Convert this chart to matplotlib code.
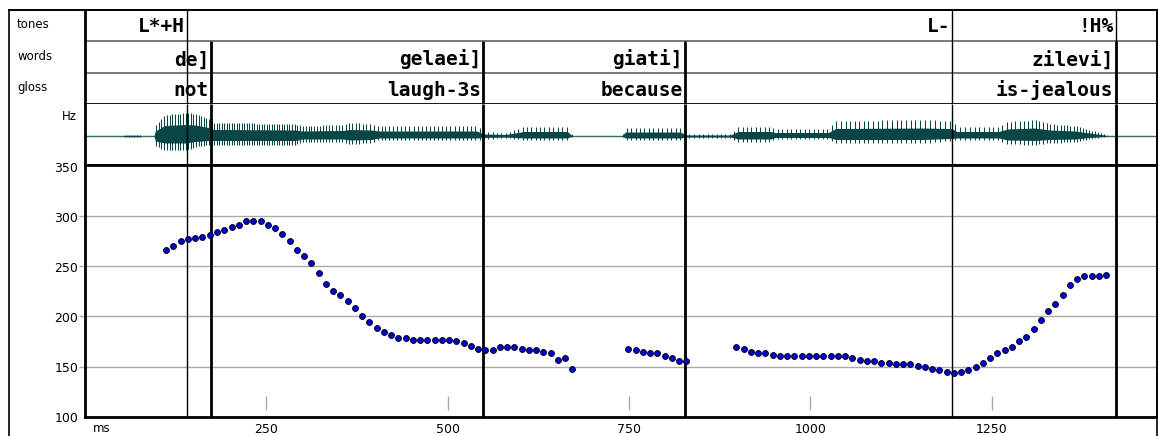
import numpy as np
import matplotlib
matplotlib.use("Agg")
import matplotlib.pyplot as plt
from matplotlib.lines import Line2D

# ---------------- data ----------------
tier_names = ["tones", "words", "gloss"]

tone_labels = ["L*+H", "L-", "!H%"]
tone_times = [141, 1196, 1421]          # right edges of tone intervals (ms)

word_labels = ["de]", "gelaei]", "giati]", "zilevi]"]
gloss_labels = ["not", "laugh-3s", "because", "is-jealous"]
word_times = [174, 549, 827, 1421]      # right edges of word intervals (ms)

total_ms = 1478

# F0 track (Hz), sampled every 10 ms, in three voiced stretches
f0_seg_starts = [112, 749, 898]
f0_seg1 = [266, 270, 275, 277, 278, 279, 281, 284, 286, 289, 291, 295, 295, 295,
           291, 288, 282, 275, 266, 260, 253, 243, 232, 225, 221, 215, 208, 200,
           194, 189, 185, 182, 179, 179, 177, 177, 177, 177, 177, 177, 176, 174,
           171, 168, 167, 167, 170, 170, 170, 168, 167, 167, 165, 164, 157, 159, 148]
f0_seg2 = [168, 167, 165, 164, 164, 161, 159, 156, 156]
f0_seg3 = [170, 168, 165, 164, 164, 162, 161, 161, 161, 161, 161, 161, 161, 161,
           161, 161, 159, 157, 156, 156, 154, 154, 153, 153, 153, 151, 150, 148,
           147, 145, 144, 145, 147, 150, 154, 159, 164, 167, 170, 176, 180, 188,
           196, 205, 212, 221, 231, 237, 240, 240, 240, 241]
f0_step_ms = 10

hz_ticks = [100, 150, 200, 250, 300, 350]
ms_ticks = [250, 500, 750, 1000, 1250]

# Waveform amplitude envelope (upper / lower excursion)
wave_env_t = [0, 52, 54, 76, 78, 95, 97, 110, 140, 152, 170, 178, 290, 300, 355,
              365, 395, 405, 540, 550, 580, 605, 665, 672, 740, 745, 820, 830,
              890, 900, 945, 952, 1025, 1035, 1155, 1195, 1202, 1260, 1272, 1310,
              1330, 1365, 1385, 1405, 1412, 1478]
wave_env_up = [0, 0, 1.3, 1.3, 0, 0, 10, 21, 23, 22, 17, 13, 12, 10, 11,
               13, 12, 10, 10, 4, 3, 9, 9, 0, 0, 8, 8, 2,
               2, 9, 9, 7, 7, 15, 16, 15, 9, 9, 14, 16,
               12, 10, 6, 2, 0, 0]
wave_env_down = [0, 0, 1.3, 1.3, 0, 0, 10, 14, 14, 11, 9, 9, 9, 6, 6,
                 8, 7, 4, 4, 3, 2, 4, 4, 0, 0, 4, 4, 2,
                 2, 6, 6, 3, 3, 7, 7, 5, 4, 4, 8, 9,
                 7, 6, 3, 1, 0, 0]

# ---------------- style ----------------
W, H, DPI = 1158, 436, 100
thick = 2.0
thin = 1.0
wave_color = "#0b4646"
base_color = "#2f6f6d"
grid_color = "#a9a9a9"
dot_face = "#0000d0"
mono = {"family": "DejaVu Sans Mono", "weight": "bold", "size": 14}
small = {"family": "DejaVu Sans", "size": 8.5}


def box(x0, y0, x1, y1):
    return [x0 / W, 1 - y1 / H, (x1 - x0) / W, (y1 - y0) / H]


fig = plt.figure(figsize=(W / DPI, H / DPI), dpi=DPI, facecolor="white")

# ---------------- annotation tiers ----------------
ax_t = fig.add_axes(box(85, 10, 1157, 104))
ax_t.set_xlim(0, total_ms)
ax_t.set_ylim(3, 0)
ax_t.set_xticks([])
ax_t.set_yticks([])
for side in ["left", "bottom"]:
    ax_t.spines[side].set_linewidth(thick)
ax_t.spines["top"].set_linewidth(1.4)
ax_t.spines["right"].set_linewidth(1.2)
ax_t.hlines([1, 2], 0, total_ms, color="#555555", lw=1.1)

# tone boundaries run through every tier (thin)
ax_t.vlines(tone_times, 0, 3, color="black", lw=thin)
# word boundaries: words and gloss rows (thick)
ax_t.vlines(word_times, 1, 3, color="black", lw=thick)

row_baseline = [0.70, 1.77, 2.76]


def tier_text(t, row, s):
    ax_t.annotate(s, xy=(t, row_baseline[row]), xytext=(-1.5, 0),
                  textcoords="offset points", ha="right", va="baseline",
                  **mono)


for t, s in zip(tone_times, tone_labels):
    tier_text(t, 0, s)
for t, s in zip(word_times, word_labels):
    tier_text(t, 1, s)
for t, s in zip(word_times, gloss_labels):
    tier_text(t, 2, s)

# tier names in the left column
name_y = [24, 56, 88]
for name, y in zip(tier_names, name_y):
    fig.text(17 / W, 1 - y / H, name, ha="left", va="center", **small)

# ---------------- waveform ----------------
f0_t = np.concatenate([s + f0_step_ms * np.arange(len(v))
                       for s, v in zip(f0_seg_starts, [f0_seg1, f0_seg2, f0_seg3])])
f0_v = np.concatenate([f0_seg1, f0_seg2, f0_seg3]).astype(float)

ax_w = fig.add_axes(box(85, 104, 1157, 165))
ax_w.set_xlim(0, total_ms)
ax_w.set_ylim(-29, 32)
ax_w.set_xticks([])
ax_w.set_yticks([])
ax_w.spines["top"].set_visible(False)
ax_w.spines["left"].set_linewidth(thick)
ax_w.spines["bottom"].set_linewidth(thick)
ax_w.spines["right"].set_linewidth(1.2)

td = np.linspace(0, total_ms, 6000)
env_up = np.interp(td, wave_env_t, wave_env_up)
env_dn = np.interp(td, wave_env_t, wave_env_down)
ax_w.axhline(0, color=base_color, lw=1.0, zorder=1)
ax_w.fill_between(td, -0.5 * env_dn, 0.5 * env_up, color=wave_color, lw=0, zorder=2)

# one stroke per glottal pulse, spaced by the local pitch period
pulses = []
t = 0.0
while t < total_ms:
    if np.interp(t, wave_env_t, wave_env_up) > 0.5:
        pulses.append(t)
    t += 1000.0 / np.interp(t, f0_t, f0_v)
pulses = np.array(pulses)
ax_w.vlines(pulses, -np.interp(pulses, wave_env_t, wave_env_down),
            np.interp(pulses, wave_env_t, wave_env_up),
            color=wave_color, lw=0.75, zorder=2)

ax_w.vlines(tone_times, -29, 32, color="black", lw=thin, zorder=3)
ax_w.vlines(word_times, -29, 32, color="black", lw=thick, zorder=3)
fig.text(77 / W, 1 - 117 / H, "Hz", ha="right", va="center", **small)

# ---------------- pitch track ----------------
ax_p = fig.add_axes(box(85, 165, 1157, 416.5))
ax_p.set_xlim(0, total_ms)
ax_p.set_ylim(100, 351.5)
for side in ["left", "bottom", "top"]:
    ax_p.spines[side].set_linewidth(thick)
ax_p.spines["right"].set_linewidth(1.2)

ax_p.set_yticks(hz_ticks)
ax_p.set_yticklabels([str(v) for v in hz_ticks], family="DejaVu Sans", fontsize=9)
ax_p.tick_params(axis="y", length=4.5, width=1.0, color=grid_color, pad=0.5)
for tk in ax_p.yaxis.get_major_ticks():
    if tk.get_loc() in (100, 350):
        tk.tick1line.set_visible(False)
ax_p.set_xticks(ms_ticks)
ax_p.set_xticklabels([str(v) for v in ms_ticks], family="DejaVu Sans", fontsize=9)
ax_p.tick_params(axis="x", length=0, pad=5)

for v in hz_ticks[1:-1]:
    ax_p.axhline(v, color=grid_color, lw=1.0, zorder=1)
ax_p.vlines(ms_ticks, 0.026, 0.082, transform=ax_p.get_xaxis_transform(),
            color=grid_color, lw=1.0)

ax_p.vlines(tone_times, 100, 351.5, color="black", lw=thin, zorder=3)
ax_p.vlines(word_times, 100, 351.5, color="black", lw=thick, zorder=3)

for s, v in zip(f0_seg_starts, [f0_seg1, f0_seg2, f0_seg3]):
    tt = s + f0_step_ms * np.arange(len(v))
    ax_p.plot(tt, v, ls="none", marker="o", ms=4.2, mfc=dot_face,
              mec="#000022", mew=0.7, zorder=4)

fig.text(93 / W, 1 - 428 / H, "ms", ha="left", va="center", **small)

# ---------------- outer frame ----------------
fig.add_artist(Line2D([9 / W, 9 / W], [1 - 10 / H, 0], transform=fig.transFigure,
                      color="black", lw=1.2))
fig.add_artist(Line2D([9 / W, 1157 / W], [1 - 10 / H, 1 - 10 / H],
                      transform=fig.transFigure, color="black", lw=1.4))
fig.add_artist(Line2D([1157 / W, 1157 / W], [1 - 10 / H, 0],
                      transform=fig.transFigure, color="black", lw=1.2))

fig.savefig("out.png", dpi=DPI, facecolor="white")
